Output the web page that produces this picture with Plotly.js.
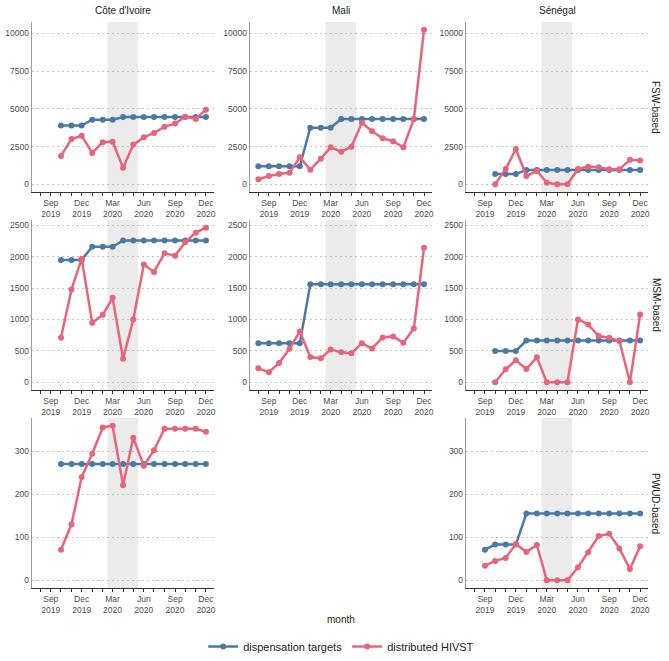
<!DOCTYPE html>
<html>
<head>
<meta charset="utf-8">
<script src="https://cdn.plot.ly/plotly-3.0.1.min.js"></script>
<style>
  body { margin: 0; background: #fff; }
  #plot { width: 669px; height: 661px; }
</style>
</head>
<body>
<div id="plot"></div>
<script>
// months covered by each series
let months_ci = ["2019-10-01", "2019-11-01", "2019-12-01", "2020-01-01", "2020-02-01", "2020-03-01", "2020-04-01", "2020-05-01",
  "2020-06-01", "2020-07-01", "2020-08-01", "2020-09-01", "2020-10-01", "2020-11-01", "2020-12-01"];
let months_ml = ["2019-08-01", "2019-09-01"].concat(months_ci);
let months_sn = months_ci;
let months_sn_pwud = ["2019-09-01"].concat(months_ci);

// FSW-based
let ci_fsw_target = [3890, 3890, 3890, 4280, 4280, 4280, 4460, 4460, 4460, 4460, 4460, 4460, 4460, 4460, 4460];
let ci_fsw_hivst = [1880, 3000, 3220, 2075, 2780, 2825, 1100, 2630, 3110, 3400, 3820, 4020, 4480, 4330, 4945];
let ml_fsw_target = [1190, 1190, 1190, 1190, 1190, 3750, 3750, 3750, 4330, 4330, 4330, 4330, 4330, 4330, 4330, 4330, 4330];
let ml_fsw_hivst = [330, 550, 685, 770, 1790, 970, 1700, 2450, 2160, 2490, 4080, 3510, 3050, 2850, 2450, 4330, 10240];
let sn_fsw_target = [685, 685, 685, 950, 950, 950, 950, 950, 950, 950, 950, 950, 950, 950, 950];
let sn_fsw_hivst = [0, 1015, 2340, 550, 880, 110, 0, 0, 1015, 1170, 1125, 990, 990, 1630, 1570];

// MSM-based
let ci_msm_target = [1950, 1950, 1950, 2160, 2160, 2160, 2260, 2260, 2260, 2260, 2260, 2260, 2260, 2260, 2260];
let ci_msm_hivst = [710, 1480, 1970, 950, 1075, 1345, 376, 1000, 1875, 1758, 2055, 2018, 2230, 2384, 2463];
let ml_msm_target = [620, 620, 620, 620, 620, 1560, 1560, 1560, 1560, 1560, 1560, 1560, 1560, 1560, 1560, 1560, 1560];
let ml_msm_hivst = [222, 159, 307, 535, 810, 403, 381, 524, 477, 461, 620, 540, 715, 731, 630, 858, 2145];
let sn_msm_target = [500, 500, 500, 665, 665, 665, 665, 665, 665, 665, 665, 665, 665, 665, 665];
let sn_msm_hivst = [0, 207, 350, 212, 397, 0, 0, 0, 1001, 922, 736, 710, 657, 0, 1080];

// PWUD-based
let ci_pwud_target = [270, 270, 270, 270, 270, 270, 270, 270, 270, 270, 270, 270, 270, 270, 270];
let ci_pwud_hivst = [71, 130, 240, 294, 355, 359, 221, 331, 266, 302, 352, 352, 352, 352, 345];
let sn_pwud_target = [71, 83, 83, 83, 155, 155, 155, 155, 155, 155, 155, 155, 155, 155, 155, 155];
let sn_pwud_hivst = [34, 45, 52, 84, 66, 82, 0, 0, 0, 30, 65, 103, 108, 74, 26, 79];

let countries = ["Côte d'Ivoire", "Mali", "Sénégal"];
let groups = ["FSW-based", "MSM-based", "PWUD-based"];
let series_names = ["dispensation targets", "distributed HIVST"];
let y_tick_values = [[0, 2500, 5000, 7500, 10000], [0, 500, 1000, 1500, 2000, 2500], [0, 100, 200, 300]];
let lockdown = ["2020-02-15", "2020-05-15"];

let panels = [
  { row: 0, col: 0, months: months_ci, target: ci_fsw_target, hivst: ci_fsw_hivst },
  { row: 0, col: 1, months: months_ml, target: ml_fsw_target, hivst: ml_fsw_hivst },
  { row: 0, col: 2, months: months_sn, target: sn_fsw_target, hivst: sn_fsw_hivst },
  { row: 1, col: 0, months: months_ci, target: ci_msm_target, hivst: ci_msm_hivst },
  { row: 1, col: 1, months: months_ml, target: ml_msm_target, hivst: ml_msm_hivst },
  { row: 1, col: 2, months: months_sn, target: sn_msm_target, hivst: sn_msm_hivst },
  { row: 2, col: 0, months: months_ci, target: ci_pwud_target, hivst: ci_pwud_hivst },
  { row: 2, col: 2, months: months_sn_pwud, target: sn_pwud_target, hivst: sn_pwud_hivst },
];

let blue = "#4a79a6";
let red = "#e8647b";
let font = "Liberation Sans, Arial, sans-serif";

let col_domains = [[0.048, 0.320], [0.374, 0.646], [0.697, 0.969]];
let row_domains = [[0.7095, 0.9667], [0.41, 0.6672], [0.1104, 0.3676]];
let y_ranges = [[-512, 10752], [-123, 2586], [-18, 377]];

let data = [];
let layout = {
  width: 669,
  height: 661,
  margin: { l: 0, r: 0, t: 0, b: 0 },
  paper_bgcolor: "#fff",
  plot_bgcolor: "#fff",
  font: { family: font, color: "#222" },
  showlegend: true,
  legend: {
    orientation: "h",
    x: 0.51,
    xanchor: "center",
    y: 0,
    yanchor: "bottom",
    font: { size: 11, color: "#222" },
    itemwidth: 30,
  },
  shapes: [],
  annotations: [],
};

panels.forEach(function (p, i) {
  let n = i === 0 ? "" : String(i + 1);
  let xa = "x" + n;
  let ya = "y" + n;
  data.push({
    x: p.months, y: p.target, xaxis: xa, yaxis: ya,
    type: "scatter", mode: "lines+markers", name: series_names[0],
    legendgroup: "t", showlegend: i === 0,
    line: { color: blue, width: 2.5 }, marker: { color: blue, size: 6 },
  });
  data.push({
    x: p.months, y: p.hivst, xaxis: xa, yaxis: ya,
    type: "scatter", mode: "lines+markers", name: series_names[1],
    legendgroup: "h", showlegend: i === 0,
    line: { color: red, width: 2.5 }, marker: { color: red, size: 6 },
  });
  layout["xaxis" + n] = {
    domain: col_domains[p.col],
    anchor: ya,
    type: "date",
    range: ["2019-07-08", "2020-12-25"],
    tick0: "2019-09-01",
    dtick: "M3",
    tickformat: "%b<br>%Y",
    ticks: "outside",
    ticklen: 3,
    tickcolor: "#333",
    minor: { dtick: "M1", tick0: "2019-08-01", ticks: "outside", ticklen: 3, tickcolor: "#333", showgrid: false },
    tickfont: { size: 8.5, color: "#4d4d4d" },
    showline: true,
    linecolor: "#333",
    linewidth: 1,
    showgrid: false,
    zeroline: false,
    fixedrange: true,
  };
  layout["yaxis" + n] = {
    domain: row_domains[p.row],
    anchor: xa,
    range: y_ranges[p.row],
    tickmode: "array",
    tickvals: y_tick_values[p.row],
    ticktext: y_tick_values[p.row].map(String),
    tickfont: { size: 8.5, color: "#4d4d4d" },
    ticks: "",
    showline: true,
    linecolor: "#9a9a9a",
    linewidth: 1.5,
    showgrid: true,
    gridcolor: "#c4c4c4",
    griddash: "2px,3px",
    gridwidth: 1,
    zeroline: false,
    fixedrange: true,
  };
  layout.shapes.push({
    type: "rect", xref: xa, yref: ya + " domain",
    x0: lockdown[0], x1: lockdown[1], y0: 0, y1: 1,
    fillcolor: "#ebebeb", line: { width: 0 }, layer: "below",
  });
});

countries.forEach(function (c, j) {
  layout.annotations.push({
    text: c, xref: "paper", yref: "paper",
    x: (col_domains[j][0] + col_domains[j][1]) / 2, y: 1 - 10 / 661,
    xanchor: "center", yanchor: "middle", showarrow: false,
    font: { size: 10, color: "#222" },
  });
});

groups.forEach(function (g, k) {
  layout.annotations.push({
    text: g, xref: "paper", yref: "paper",
    x: 656 / 669, y: (row_domains[k][0] + row_domains[k][1]) / 2,
    xanchor: "center", yanchor: "middle", textangle: 90, showarrow: false,
    font: { size: 10, color: "#222" },
  });
});

layout.annotations.push({
  text: "month", xref: "paper", yref: "paper",
  x: 341 / 669, y: 1 - 619 / 661,
  xanchor: "center", yanchor: "middle", showarrow: false,
  font: { size: 10, color: "#222" },
});

Plotly.newPlot("plot", data, layout, { staticPlot: true });
</script>
</body>
</html>
